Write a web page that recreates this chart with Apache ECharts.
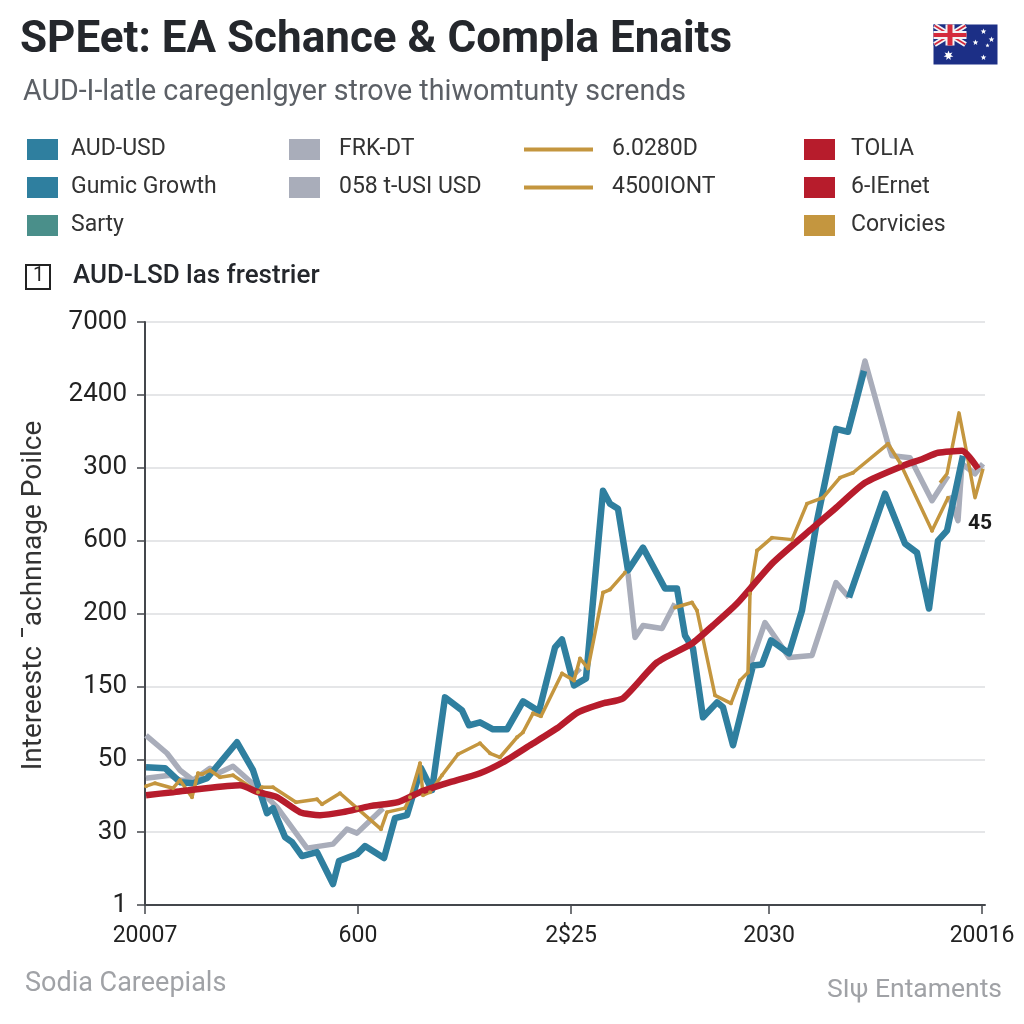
<!DOCTYPE html>
<html>
<head>
<meta charset="utf-8">
<style>html,body{margin:0;padding:0;background:#fff}#c{width:1024px;height:1024px}</style>
<script src="https://cdn.jsdelivr.net/npm/echarts@6/dist/echarts.min.js"></script>
</head>
<body>
<div id="c"></div>
<script>
const yLabels = ['1','30','50','150','200','600','300','2400','7000'];
const xTickPos = [0,213,426,624,837];
const xTickLabels = ['20007','600','2$25','2030','20016'];
const audUsd = [[1,138],[20,137],[35,123],[48,122],[62,127],[92,163],[108,135],[122,92],[128,97],[140,68],[147,63],[157,49],[172,53],[188,21],[194,44],[212,51],[220,59],[239,47],[250,87],[262,90],[276,137],[287,115],[300,208],[317,195],[324,180],[335,183],[348,176],[362,176],[378,204],[394,194],[410,258],[417,266],[429,220],[441,227],[458,415],[465,402],[473,397],[483,335],[498,358],[520,317],[532,317],[540,270],[548,257],[558,188],[572,203],[578,198],[588,160],[608,240],[617,241],[626,265],[644,252],[657,295],[672,385],[691,477],[703,474],[719,535]];
const gumicGrowth = [[704,308],[740,412],[760,362],[772,353],[784,297],[793,365],[802,375],[818,450]];
const frkdt = [[1,170],[22,152],[35,135],[48,125],[60,null],[703,474],[720,545],[743,462],[747,450],[765,448],[787,405],[803,430],[803.5,null],[804,410],[813,385],[817,442],[830,432],[838,442]];
const usdPair = [[1,127],[25,130],[35,125],[48,125],[65,137],[73,132],[88,139],[113,117],[132,98],[162,57],[188,61],[202,76],[212,72],[238,97],[300,null],[428,230],[435,237],[460,null],[483,332],[490,268],[498,280],[517,277],[530,302],[560,null],[605,240],[620,283],[644,248],[667,250],[691,323],[704,308]];
const goldA = [[1,119],[10,122],[28,117],[35,125],[47,108],[53,132],[57,131],[65,135],[75,128],[88,130],[113,113],[117,118],[128,118],[151,103],[172,106],[177,101],[195,112],[212,97],[236,76],[242,93],[260,97],[265,108],[275,142],[278,110],[285,113],[297,130],[313,151],[335,162],[345,152],[355,148],[372,168],[378,173],[388,192],[396,189],[417,232],[429,225],[435,247],[443,237],[458,313],[465,316],[480,333],[500,null],[530,298],[547,303],[552,295],[570,210],[586,202],[595,225],[603,233],[605,312],[612,355],[627,368],[647,366],[662,402],[678,408],[695,428],[708,433],[743,462],[755,443],[787,375],[803,408]];
const goldB = [[795,423],[802,432],[814,493],[820,462],[830,408],[838,437]];
const tolia = [[1,110],[28,113],[52,116],[95,120],[113,113],[132,108],[155,93],[175,90],[198,93],[225,99],[253,103],[275,113],[302,122],[335,132],[358,143],[385,160],[412,177],[433,193],[458,202],[478,207],[512,243],[547,262],[568,280],[592,302],[628,343],[668,378],[690,397],[720,423],[758,440],[778,447],[793,453],[817,455],[833,437]];
const endLabel = '45';

const teal='#2f7f9f', gray='#a9adba', gold='#c4963f', red='#b71c2c', green='#4a8f8a';
const F='Roboto, "Liberation Sans", sans-serif';
function line(name,data,color,width,extra){
  return Object.assign({name,type:'line',data,showSymbol:false,symbol:'none',connectNulls:false,animation:false,
    itemStyle:{color},lineStyle:{color,width,join:'round'},emphasis:{disabled:true}},extra||{});
}
function legend(left,names,w,h,pad){
  return {orient:'vertical',left,top:138,data:names,icon:'rect',itemWidth:w,itemHeight:h,itemGap:15,
    selectedMode:false,padding:0,itemStyle:{borderWidth:0},
    textStyle:{fontFamily:F,fontSize:23,color:'#333',padding:[0,0,0,pad],lineHeight:23}};
}
function star(cx,cy,n,r,r0){
  const points=[];
  for(let i=0;i<2*n;i++){
    const a=-Math.PI/2+i*Math.PI/n, q=i%2?r0:r;
    points.push([cx+q*Math.cos(a),cy+q*Math.sin(a)]);
  }
  return {type:'polygon',shape:{points},style:{fill:'#fff'}};
}
const option={
  backgroundColor:'#fff',animation:false,
  title:[
    {text:'SPEet: EA Schance & Compla Enaits',left:20,top:19,padding:0,textStyle:{fontFamily:F,fontSize:44,fontWeight:700,color:'#24272c'}},
    {text:'AUD-I-latle caregenlgyer strove thiwomtunty scrends',left:23,top:78,padding:0,textStyle:{fontFamily:F,fontSize:28.6,fontWeight:400,color:'#5c6066'}},
    {text:'AUD-LSD las frestrier',left:73,top:263,padding:0,textStyle:{fontFamily:F,fontSize:26,fontWeight:500,color:'#24272c'}},
    {text:'Sodia Careepials',left:25,top:971,padding:0,textStyle:{fontFamily:F,fontSize:27,fontWeight:400,color:'#a0a2a6'}},
    {text:'SI\u03c8 Entaments',right:22,top:977,padding:0,textStyle:{fontFamily:F,fontSize:26.5,fontWeight:400,color:'#a0a2a6'}}
  ],
  legend:[
    legend(27,['AUD-USD','Gumic Growth','Sarty'],31,21,8),
    legend(289,['FRK-DT','058 t-USI USD'],31,21,14),
    legend(524,['6.0280D','4500IONT'],69,4,14),
    legend(804,['TOLIA','6-IErnet','Corvicies'],31,21,11)
  ],
  grid:{left:145,right:39,top:322,height:583,containLabel:false},
  xAxis:{type:'value',min:0,max:840,
    axisLine:{show:true,onZero:false,lineStyle:{color:'#44474c',width:2}},
    axisTick:{show:true,length:9,customValues:xTickPos,lineStyle:{color:'#44474c',width:1.5}},
    axisLabel:{customValues:xTickPos,margin:20,fontFamily:F,fontSize:23,color:'#222',hideOverlap:false,
      formatter:v=>xTickLabels[xTickPos.indexOf(v)]},
    splitLine:{show:false}},
  yAxis:{type:'value',min:0,max:584,interval:73,
    name:"Intereestc \u00afachnnage Poilce",nameLocation:'middle',nameGap:97,nameRotate:90,
    nameTextStyle:{fontFamily:F,fontSize:28,color:'#333',padding:[0,0,0,36]},
    axisLine:{show:true,onZero:false,lineStyle:{color:'#44474c',width:2}},
    axisTick:{show:true,length:8,lineStyle:{color:'#44474c',width:1.5}},
    axisLabel:{margin:18,fontFamily:F,fontSize:26,color:'#222',formatter:v=>yLabels[Math.round(v/73)]},
    splitLine:{show:true,lineStyle:{color:'#dcdee0',width:1.5}}},
  series:[
    line('FRK-DT',frkdt,gray,5.5),
    line('058 t-USI USD',usdPair,gray,5.5),
    line('AUD-USD',audUsd,teal,6.5),
    line('Gumic Growth',gumicGrowth,teal,6.5),
    line('Sarty',[],green,6),
    line('6.0280D',goldA,gold,3.5,{showSymbol:true,symbol:'circle',symbolSize:4}),
    line('4500IONT',goldB,gold,3.5),
    line('TOLIA',tolia,red,6.5,{smooth:0.2,
      markPoint:{symbol:'circle',symbolSize:0,silent:true,animation:false,
        data:[{coord:[835,382],label:{show:true,formatter:endLabel,position:'inside',fontFamily:F,fontSize:21,fontWeight:700,color:'#1c1c1c'}}]}}),
    line('6-IErnet',[],red,6),
    line('Corvicies',[],gold,6)
  ],
  graphic:[
    {type:'rect',left:25,top:264,shape:{width:24,height:24},style:{fill:'#fff',stroke:'#222',lineWidth:2}},
    {type:'text',left:33,top:266,style:{text:'1',fontFamily:F,fontSize:20,fill:'#222'}},
    {type:'group',left:932,top:23,width:64,height:40,children:[
      {type:'rect',shape:{x:0,y:0,width:64,height:40},style:{fill:'#1c2f86'}},
      {type:'rect',shape:{x:0,y:0,width:33,height:21},style:{fill:'#1c2f86'}},
      {type:'line',shape:{x1:1,y1:1,x2:32,y2:20},style:{stroke:'#f3f3f6',lineWidth:5}},
      {type:'line',shape:{x1:32,y1:1,x2:1,y2:20},style:{stroke:'#f3f3f6',lineWidth:5}},
      {type:'line',shape:{x1:1,y1:1,x2:32,y2:20},style:{stroke:'#d42a3c',lineWidth:1.8}},
      {type:'line',shape:{x1:32,y1:1,x2:1,y2:20},style:{stroke:'#d42a3c',lineWidth:1.8}},
      {type:'rect',shape:{x:12,y:0,width:9,height:21},style:{fill:'#f3f3f6'}},
      {type:'rect',shape:{x:0,y:6.5,width:33,height:8},style:{fill:'#f3f3f6'}},
      {type:'rect',shape:{x:14,y:0,width:5,height:21},style:{fill:'#d42a3c'}},
      {type:'rect',shape:{x:0,y:8.5,width:33,height:4},style:{fill:'#d42a3c'}},
      star(15,31,7,5,2.4),
      star(50,7,5,3,1.3),
      star(42,18,5,3,1.3),
      star(58,15,5,3,1.3),
      star(54,21,5,2.2,1),
      star(50,33,5,3,1.3)
    ]}
  ]
};
const chart=echarts.init(document.getElementById('c'),null,{renderer:'canvas'});
chart.setOption(option);
</script>
</body>
</html>
